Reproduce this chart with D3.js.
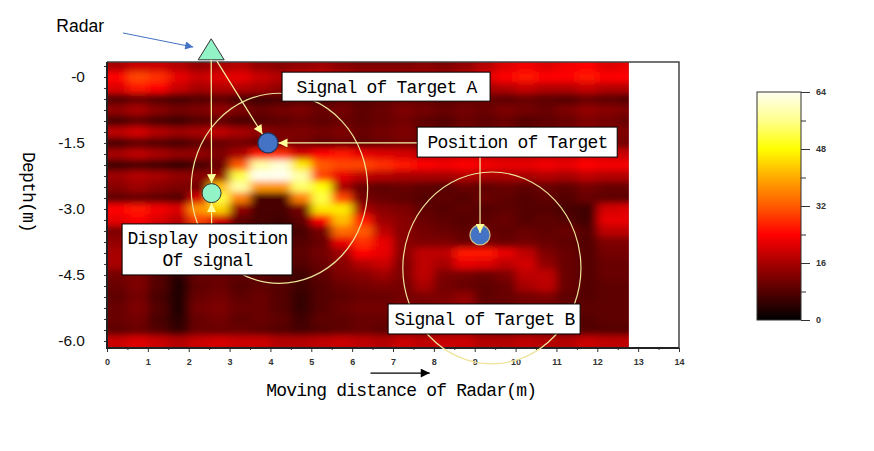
<!DOCTYPE html>
<html>
<head>
<meta charset="utf-8">
<script src="https://cdn.jsdelivr.net/npm/d3@7"></script>
<style>
  body { margin: 0; background: #fff; }
  svg { display: block; }
  .box { fill: #fff; stroke: #000; stroke-width: 1; }
  .note { font-family: "Liberation Mono", monospace; font-size: 18px; letter-spacing: -0.8px; fill: #000; }
  .xaxis text, .cbar text { font-family: "Liberation Sans", Arial, sans-serif; font-size: 9px; font-weight: bold; fill: #333; }
  .yaxis text { font-family: "Liberation Sans", Arial, sans-serif; font-size: 15.5px; fill: #111; }
</style>
</head>
<body>
<div id="chart"></div>
<script>
// start of each scan column along the line (m)
var distances = [0, 0.5, 1, 1.5, 2, 2.5, 3, 3.5, 4, 4.5, 5, 5.5, 6, 6.5,
                 7, 7.5, 8, 8.5, 9, 9.5, 10, 10.5, 11, 11.5, 12, 12.5];
var distanceEnd = 12.77;

// centre depth of each scan row (m)
var depths = [0.25, 0, -0.25, -0.5, -0.75, -1, -1.25, -1.5, -1.75, -2, -2.25, -2.5, -2.75,
              -3, -3.25, -3.5, -3.75, -4, -4.25, -4.5, -4.75, -5, -5.25, -5.5, -5.75, -6];

// reflected amplitude (0-64), one row per depth, one value per column
var amplitude = [
  [16,19,19,17,14,16,17,14,13,14,15,13,12,12,12,13,12,14,17,21,23,21,23,24,21,22],
  [24,30,28,22,19,21,22,19,17,19,19,17,16,16,16,16,16,17,21,24,26,24,24,26,24,24],
  [21,26,24,19,16,17,17,16,14,16,16,14,13,14,14,14,14,14,16,17,19,17,17,19,17,17],
  [8,10,8,7,8,9,7,6,7,8,7,9,8,9,10,9,8,9,10,9,10,9,8,10,9,8],
  [14,16,13,11,12,14,12,10,11,12,10,11,9,10,12,11,10,11,10,12,11,10,12,14,13,12],
  [7,9,7,6,8,9,7,8,9,10,9,10,9,10,11,9,8,10,9,10,8,9,10,12,11,10],
  [18,20,17,15,16,18,16,14,12,12,11,12,10,11,12,11,10,12,11,12,10,11,12,14,13,12],
  [7,9,8,7,9,10,11,9,12,11,9,10,9,10,11,10,9,11,10,11,10,11,12,13,12,11],
  [16,18,16,14,14,12,16,26,28,20,24,26,22,21,20,18,18,19,18,18,17,18,18,20,19,19],
  [6,7,6,5,7,10,32,58,62,46,32,30,30,28,26,24,23,24,23,22,22,23,22,24,23,23],
  [15,17,16,14,13,14,52,64,64,58,30,22,18,17,16,16,16,17,16,16,16,17,16,18,17,17],
  [13,15,13,12,11,42,58,38,38,54,48,16,10,9,10,9,8,10,9,10,9,10,9,11,10,10],
  [9,10,9,8,20,52,36,7,7,36,52,30,11,10,9,8,9,8,10,9,8,9,8,10,9,9],
  [24,26,23,21,38,44,14,7,7,11,46,46,16,13,12,9,8,9,8,9,8,8,7,6,20,21],
  [22,24,21,18,30,20,9,7,6,9,24,42,26,15,13,10,9,8,9,10,8,9,8,6,22,22],
  [12,14,12,10,12,10,8,7,6,7,11,34,32,18,13,11,10,9,10,9,10,9,10,8,18,18],
  [14,16,10,5,12,10,9,8,7,8,10,22,28,22,13,12,12,10,11,10,11,10,9,8,12,12],
  [16,18,10,4,14,12,10,9,8,9,11,15,24,22,13,18,18,26,26,22,18,12,10,8,11,11],
  [16,17,9,5,13,11,10,9,8,8,10,13,17,19,12,18,16,22,21,18,20,14,10,8,10,10],
  [11,12,8,4,10,10,9,8,7,6,9,12,13,15,12,18,12,11,10,12,18,18,10,8,10,10],
  [10,12,8,3,9,10,8,9,8,6,8,10,11,12,11,16,11,10,9,10,16,18,10,8,9,9],
  [9,11,7,3,10,11,9,10,8,5,8,9,10,10,11,12,12,14,9,10,11,12,9,8,9,9],
  [10,12,8,3,11,12,10,10,8,5,8,10,11,11,12,11,13,14,10,9,11,10,10,9,9,9],
  [10,11,7,4,10,11,9,10,9,6,9,9,10,10,11,10,12,13,10,9,10,9,9,8,9,9],
  [9,10,8,5,10,10,10,9,8,7,8,9,10,9,10,9,11,12,9,8,9,9,8,8,8,8],
  [19,21,19,17,19,20,19,19,17,17,18,19,18,17,19,18,19,19,17,17,18,17,17,19,18,18]
];

var xTicks = [0, 1, 2, 3, 4, 5, 6, 7, 8, 9, 10, 11, 12, 13, 14];
var yTicks = [0, -1.5, -3.0, -4.5, -6.0];
var yTickLabels = ["-0", "-1.5", "-3.0", "-4.5", "-6.0"];
var colorStops = [0, 16, 24, 32, 40, 48, 56, 64];
var colorRamp = ["#000000", "#a80000", "#ff0000", "#ff5a00", "#ffaa00", "#ffff00", "#ffff8c", "#fffff0"];
var colorbarTicks = [0, 16, 32, 48, 64];
var colorbarMinor = [8, 24, 40, 56];

// annotation anchors, in metres
var radar = {x: 2.55, y: 0.39};
var displayPos = {x: 2.56, y: -2.64};
var targetA = {x: 3.94, y: -1.5};
var targetB = {x: 9.13, y: -3.59};
var rings = [{x: 4.22, y: -2.53, r: 2.16}, {x: 9.42, y: -4.34, r: 2.18}];
var notes = [
  {id: "sigA", lines: ["Signal of Target A"], x: 6.83, y: -0.22, w: 208, h: 29},
  {id: "pos", lines: ["Position of Target"], x: 10.04, y: -1.48, w: 200, h: 30},
  {id: "disp", lines: ["Display position", "Of signal"], x: 2.45, y: -3.92, w: 170, h: 51},
  {id: "sigB", lines: ["Signal of Target B"], x: 9.23, y: -5.5, w: 192, h: 30}
];

var svgWidth = 874, svgHeight = 451;
var svg = d3.select("#chart").append("svg")
  .attr("width", svgWidth)
  .attr("height", svgHeight);

var x = d3.scaleLinear().domain([0, 14]).range([107, 679]);
var y = d3.scaleLinear().domain([0.34, -6.16]).range([62, 348]);
var color = d3.scaleLinear().domain(colorStops).range(colorRamp).clamp(true);

var defs = svg.append("defs");
defs.append("clipPath").attr("id", "scanClip").append("rect")
  .attr("x", x(0)).attr("y", y(0.34))
  .attr("width", x(distanceEnd) - x(0))
  .attr("height", y(-6.16) - y(0.34));
defs.append("filter").attr("id", "smear")
  .append("feGaussianBlur").attr("stdDeviation", "5 3");

function marker(id, fill, w, h) {
  defs.append("marker").attr("id", id)
    .attr("viewBox", "0 0 10 10").attr("refX", 10).attr("refY", 5)
    .attr("markerWidth", w).attr("markerHeight", h)
    .attr("markerUnits", "userSpaceOnUse").attr("orient", "auto")
    .append("path").attr("d", "M0,0L10,5L0,10z").attr("fill", fill);
}
marker("tipY", "#ffff9a", 11, 9);
marker("tipB", "#4472c4", 12, 8);
marker("tipK", "#000", 11, 9);

// radargram cells (edge cells padded so the blur does not fade at the border)
var cells = [];
amplitude.forEach(function(row, i) {
  row.forEach(function(v, j) { cells.push({i: i, j: j, v: v}); });
});
var half = (depths[0] - depths[1]) / 2;
var pad = 16;
var lastCol = distances.length - 1, lastRow = depths.length - 1;

var scan = svg.append("g").attr("clip-path", "url(#scanClip)");
scan.append("rect")
  .attr("x", x(0)).attr("y", y(0.34))
  .attr("width", x(distanceEnd) - x(0)).attr("height", y(-6.16) - y(0.34))
  .attr("fill", color(10));
scan.append("g").attr("filter", "url(#smear)")
  .selectAll("rect").data(cells).enter().append("rect")
  .attr("x", d => x(distances[d.j]) - (d.j === 0 ? pad : 0))
  .attr("width", function(d) {
    var x0 = x(distances[d.j]) - (d.j === 0 ? pad : 0);
    var x1 = d.j === lastCol ? x(distanceEnd) + pad : x(distances[d.j + 1]);
    return x1 - x0 + 0.5;
  })
  .attr("y", d => y(depths[d.i] + half) - (d.i === 0 ? pad : 0))
  .attr("height", function(d) {
    var y0 = y(depths[d.i] + half) - (d.i === 0 ? pad : 0);
    var y1 = y(depths[d.i] - half) + (d.i === lastRow ? pad : 0);
    return y1 - y0 + 0.5;
  })
  .attr("fill", d => color(d.v));

// frame
svg.append("path")
  .attr("d", `M${x(0)},${y(0.34)}H${x(14)}V${y(-6.16)}`)
  .attr("fill", "none").attr("stroke", "#444").attr("stroke-width", 1.5);

// x axis
var xAxis = svg.append("g").attr("class", "xaxis")
  .attr("transform", `translate(0, ${y(-6.16)})`)
  .call(d3.axisBottom(x).tickValues(xTicks).tickSize(4).tickPadding(7).tickFormat(d3.format("d")));
xAxis.select(".domain").remove();
xAxis.selectAll("line").attr("stroke", "#333");
svg.append("g")
  .attr("transform", `translate(0, ${y(-6.16)})`)
  .call(d3.axisBottom(x).tickValues(d3.range(0.5, 14, 1)).tickSize(2).tickFormat(""))
  .call(g => g.select(".domain").remove())
  .selectAll("line").attr("stroke", "#333");

// y axis
var yAxis = svg.append("g").attr("class", "yaxis")
  .attr("transform", `translate(${x(0)}, 0)`)
  .call(d3.axisLeft(y).tickValues(yTicks).tickSize(0).tickPadding(22)
    .tickFormat((d, i) => yTickLabels[i]));
yAxis.select(".domain").remove();
svg.append("g")
  .attr("transform", `translate(${x(0)}, 0)`)
  .call(d3.axisLeft(y).tickValues(d3.range(0.25, -6.01, -0.25)).tickSize(3).tickFormat(""))
  .call(g => g.select(".domain").remove())
  .selectAll("line").attr("stroke", "#333");

svg.append("line")
  .attr("x1", x(0)).attr("x2", x(0)).attr("y1", y(0.34)).attr("y2", y(-6.16) + 1)
  .attr("stroke", "#222").attr("stroke-width", 2);
svg.append("line")
  .attr("x1", x(0) - 1).attr("x2", x(14)).attr("y1", y(-6.16)).attr("y2", y(-6.16))
  .attr("stroke", "#222").attr("stroke-width", 2);

// axis titles
svg.append("text").attr("class", "note")
  .attr("x", x(7.2)).attr("y", 396)
  .attr("text-anchor", "middle")
  .text("Moving distance of Radar(m)");
svg.append("text").attr("class", "note")
  .attr("transform", "translate(23, 192) rotate(90)")
  .attr("text-anchor", "middle")
  .text("Depth(m)");
svg.append("line")
  .attr("x1", x(6.45)).attr("x2", x(7.9))
  .attr("y1", y(-6.73)).attr("y2", y(-6.73))
  .attr("stroke", "#000").attr("stroke-width", 1.2)
  .attr("marker-end", "url(#tipK)");

// colour bar
var cb = d3.scaleLinear().domain([0, 64]).range([320, 92]);
var grad = defs.append("linearGradient").attr("id", "cbGrad")
  .attr("x1", 0).attr("y1", 1).attr("x2", 0).attr("y2", 0);
grad.selectAll("stop").data(d3.range(0, 65, 2)).enter().append("stop")
  .attr("offset", d => d / 64)
  .attr("stop-color", d => color(d));
svg.append("rect")
  .attr("x", 757).attr("y", cb(64)).attr("width", 44).attr("height", cb(0) - cb(64))
  .attr("fill", "url(#cbGrad)").attr("stroke", "#333").attr("stroke-width", 1);
var cbAxis = svg.append("g").attr("class", "cbar")
  .attr("transform", "translate(801, 0)")
  .call(d3.axisRight(cb).tickValues(colorbarTicks).tickSize(9).tickPadding(6));
cbAxis.select(".domain").remove();
cbAxis.selectAll("line").attr("stroke", "#333");
svg.append("g").attr("transform", "translate(801, 0)")
  .call(d3.axisRight(cb).tickValues(colorbarMinor).tickSize(5).tickFormat(""))
  .call(g => g.select(".domain").remove())
  .selectAll("line").attr("stroke", "#333");

// rings around the target signals
svg.selectAll("ellipse.ring").data(rings).enter().append("ellipse")
  .attr("class", "ring")
  .attr("cx", d => x(d.x)).attr("cy", d => y(d.y))
  .attr("rx", d => x(d.r) - x(0)).attr("ry", d => y(-d.r) - y(0))
  .attr("fill", "none").attr("stroke", "#efe49a").attr("stroke-width", 1.2);

// label boxes
var noteBox = {};
notes.forEach(function(n) {
  var cx = x(n.x), cy = y(n.y);
  noteBox[n.id] = {left: cx - n.w / 2, right: cx + n.w / 2, top: cy - n.h / 2, bottom: cy + n.h / 2};
});

// radar, display position and targets
svg.append("path")
  .attr("d", `M${x(radar.x)},${y(radar.y) - 21}L${x(radar.x) + 13},${y(radar.y)}L${x(radar.x) - 13},${y(radar.y)}Z`)
  .attr("fill", "#92f3c6").attr("stroke", "#333").attr("stroke-width", 1);

svg.append("circle")
  .attr("cx", x(displayPos.x)).attr("cy", y(displayPos.y)).attr("r", 9.5)
  .attr("fill", "#92f3c6").attr("stroke", "#333");
[targetA, targetB].forEach(function(t) {
  svg.append("circle")
    .attr("cx", x(t.x)).attr("cy", y(t.y)).attr("r", 10)
    .attr("fill", "#4472c4").attr("stroke", t === targetA ? "#1f3864" : "#c9c08a")
    .attr("stroke-width", 1.2);
});

// yellow arrows
function shortTo(from, to, back) {
  var dx = to[0] - from[0], dy = to[1] - from[1], L = Math.hypot(dx, dy);
  return [to[0] - dx / L * back, to[1] - dy / L * back];
}
var pDisp = [x(displayPos.x), y(displayPos.y)];
var pA = [x(targetA.x), y(targetA.y)];
var pB = [x(targetB.x), y(targetB.y)];
var arrows = [
  [[x(radar.x), y(radar.y)], shortTo([x(radar.x), y(radar.y)], pDisp, 10)],
  [[x(displayPos.x), noteBox.disp.top], shortTo([x(displayPos.x), noteBox.disp.top], pDisp, 10)],
  [[x(2.69), y(0.36)], shortTo([x(2.69), y(0.36)], pA, 10.5)],
  [[noteBox.pos.left, pA[1]], shortTo([noteBox.pos.left, pA[1]], pA, 10.5)],
  [[x(targetB.x), noteBox.pos.bottom], [x(targetB.x), pB[1] - 2]]
];
svg.selectAll("line.arrow").data(arrows).enter().append("line")
  .attr("class", "arrow")
  .attr("x1", d => d[0][0]).attr("y1", d => d[0][1])
  .attr("x2", d => d[1][0]).attr("y2", d => d[1][1])
  .attr("stroke", "#f7f3a1").attr("stroke-width", 1.2)
  .attr("marker-end", "url(#tipY)");

// label boxes and texts
notes.forEach(function(n) {
  var b = noteBox[n.id];
  svg.append("rect").attr("class", "box")
    .attr("x", b.left).attr("y", b.top).attr("width", n.w).attr("height", n.h);
  var cy = (b.top + b.bottom) / 2;
  n.lines.forEach(function(line, k) {
    var offset = (k - (n.lines.length - 1) / 2) * 22;
    svg.append("text").attr("class", "note")
      .attr("x", (b.left + b.right) / 2 + 0.4)
      .attr("y", cy + offset + 6)
      .attr("text-anchor", "middle")
      .text(line);
  });
});

// radar label and pointer
svg.append("text")
  .attr("x", x(-1.24)).attr("y", y(1.02))
  .attr("font-family", "Liberation Sans, Arial, sans-serif")
  .attr("font-size", "17.5px").attr("fill", "#000")
  .text("Radar");
svg.append("line")
  .attr("x1", x(0.39)).attr("y1", y(1.0))
  .attr("x2", x(2.11)).attr("y2", y(0.68))
  .attr("stroke", "#4472c4").attr("stroke-width", 1)
  .attr("marker-end", "url(#tipB)");
</script>
</body>
</html>
